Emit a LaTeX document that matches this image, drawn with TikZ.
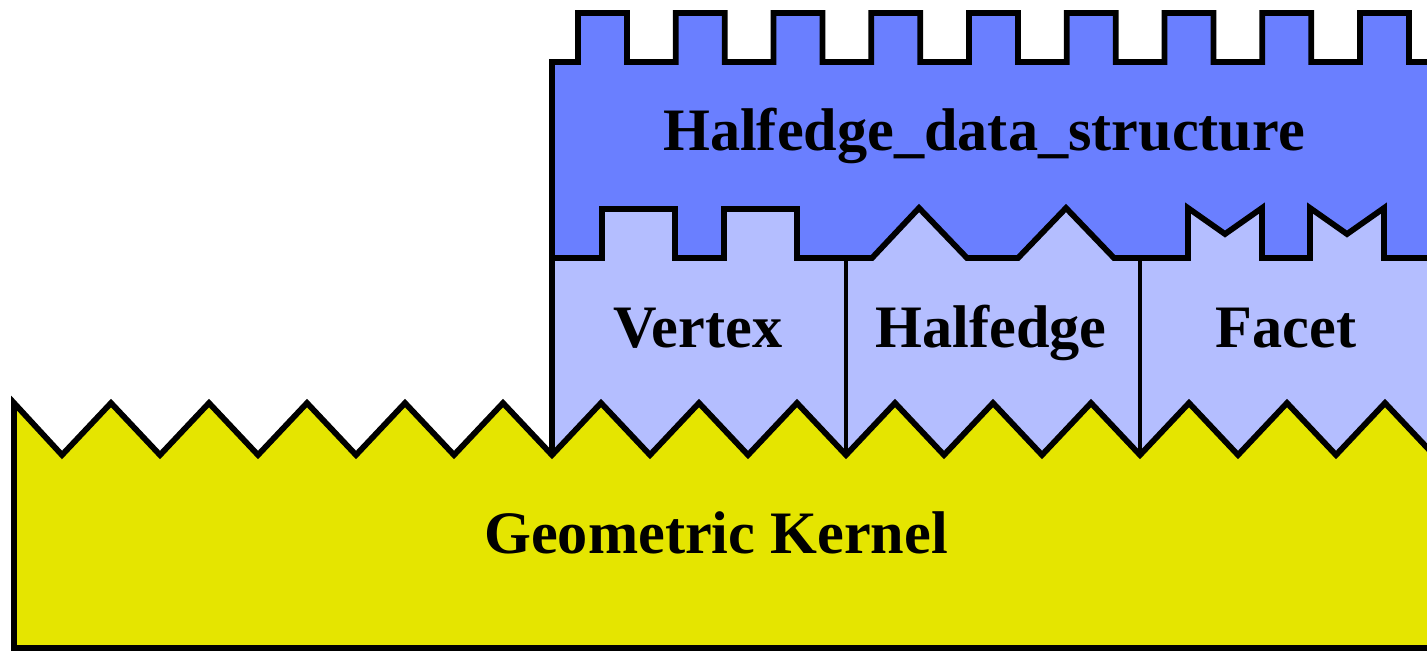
\documentclass[tikz,border=0pt]{standalone}
\usepackage{fontspec}
\setmainfont{Liberation Serif}
\usepackage{xcolor}
\usetikzlibrary{positioning}

\definecolor{hdsblue}{RGB}{106,127,255}
\definecolor{itemblue}{RGB}{180,190,255}
\definecolor{kernelyellow}{RGB}{229,229,0}

\tikzset{
	outline/.style={draw=black,line width=3.3pt,line join=miter},
	divider/.style={draw=black,line width=1.9pt},
	label/.style={font=\fontsize{34.3}{40}\selectfont\bfseries,anchor=base,inner sep=0pt}
}

\begin{document}
\begin{tikzpicture}[x=0.02cm,y=-0.02cm]
		
		\useasboundingbox (0,0) rectangle (1427,650);
		\clip (0,0) rectangle (1427,650);
		
		% items: vertex, halfedge, facet
		\fill[itemblue] (552,200) rectangle (1440,460);
		\draw[outline] (552,258) -- (552,455);
		\draw[divider] (846,258) -- (846,455);
		\draw[divider] (1140,258) -- (1140,455);
		
		% geometric kernel
		\filldraw[fill=kernelyellow,outline]
		(14,648) -- (14,403)
		\foreach \i in {0,...,14}{ -- ({62+98*\i},455) -- ({111+98*\i},403) }
		-- (1445,455) -- (1445,648) -- cycle;
		
		% halfedge data structure
		\filldraw[fill=hdsblue,outline]
		(1445,62)
		\foreach \i in {8,7,...,0}{ -- ({627+97.75*\i},62) -- ++(0,-49) -- ++(-49,0) -- ++(0,49) }
		-- (552,62) -- (552,258)
		-- (602,258) -- (602,209) -- (675,209) -- (675,258)
		-- (724,258) -- (724,209) -- (797,209) -- (797,258)
		-- (872,258) -- (919,208) -- (967,258)
		-- (1018,258) -- (1066,208) -- (1114,258)
		-- (1188,258) -- (1188,208) -- (1225,234) -- (1262,208) -- (1262,258)
		-- (1310,258) -- (1310,208) -- (1347,234) -- (1384,208) -- (1384,258)
		-- (1445,258) -- cycle;
		
		\node[label] (hds) at (984,150) {Halfedge\_data\_structure};
		\node[label] (vertex) at (698,347) {Vertex};
		\node[label] (halfedge) at (991,347) {Halfedge};
		\node[label] (facet) at (1286,347) {Facet};
		\node[label] (kernel) at (716,553) {Geometric Kernel};
		
	\end{tikzpicture}
\end{document}
